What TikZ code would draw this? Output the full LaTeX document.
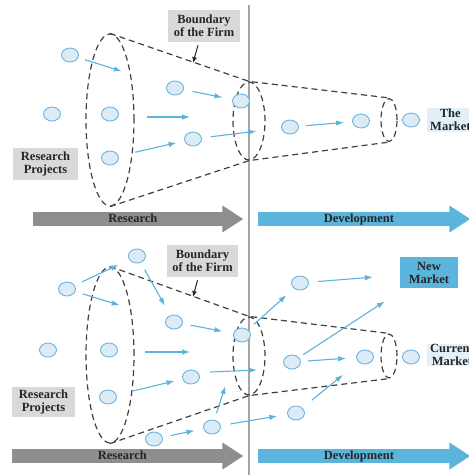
\documentclass[tikz,border=0pt]{standalone}
\usepackage{fontspec}
\setmainfont{Liberation Serif}
\usepackage{tikz}
\usetikzlibrary{arrows.meta,positioning,shapes.geometric,shapes.arrows}

\definecolor{projfill}{HTML}{DCEBF6}
\definecolor{projline}{HTML}{6BB6DE}
\definecolor{flowblue}{HTML}{5CB3DB}
\definecolor{labelgray}{HTML}{D9D9D9}
\definecolor{resgray}{HTML}{8E8E8E}
\definecolor{devblue}{HTML}{5BB4DC}
\definecolor{mktlight}{HTML}{E2F0F9}
\definecolor{conegray}{HTML}{404040}

\begin{document}
\begin{tikzpicture}[
    x=1pt, y=-1pt,
    font=\bfseries\fontsize{12.5}{13}\selectfont,
    >=Latex,
    proj/.style={
        draw=projline,
        fill=projfill,
        ellipse,
        line width=0.9pt,
        minimum width=17pt,
        minimum height=14pt,
        inner sep=0pt
    },
    flow/.style={
        draw=flowblue,
        line width=1.1pt,
        -{Latex[length=8pt,width=5.5pt]}
    },
    wall/.style={
        draw=conegray,
        dash pattern=on 6pt off 4pt,
        line width=1.2pt,
        ellipse,
        inner sep=0pt
    },
    cone/.style={
        draw=conegray,
        dash pattern=on 6pt off 4pt,
        line width=1.2pt
    },
    pointer/.style={
        draw=black!85,
        line width=1pt,
        -{Latex[length=6pt,width=5pt]}
    },
    tag/.style={
        fill=#1,
        align=center,
        inner sep=0pt,
        text=black!85
    },
    bigarrow/.style={
        single arrow,
        fill=#1,
        anchor=tail,
        minimum width=26pt,
        single arrow head extend=6.5pt,
        single arrow tip angle=66,
        inner ysep=1pt,
        text height=9pt,
        text depth=2.5pt,
        text=black!85
    }
]
\useasboundingbox (0,0) rectangle (469,475);

% divider between research and development
\coordinate (divtop) at (249,5);
\coordinate (divbot) at (249,475);
\draw[line width=1.3pt, draw=gray!70] (divtop) -- (divbot);

% =========================================================
% upper panel: closed funnel
% =========================================================
\node[wall, minimum width=48pt, minimum height=172pt] (wallA) at (110,120) {};
\node[wall, minimum width=32pt, minimum height=78pt] (wallB) at (249,121) {};
\node[wall, minimum width=16pt, minimum height=43pt] (wallC) at (389,120) {};
\draw[cone] (wallA.north) -- (wallB.north) -- (wallC.north);
\draw[cone] (wallA.south) -- (wallB.south) -- (wallC.south);

% projects
\node[proj] (t1) at (70,55) {};
\node[proj] (t2) at (52,114) {};
\node[proj] (t3) at (110,114) {};
\node[proj] (t4) at (110,158) {};
\node[proj] (t5) at (175,88) {};
\node[proj] (t6) at (193,139) {};
\node[proj] (t7) at (241,101) {};
\node[proj] (t8) at (290,127) {};
\node[proj] (t9) at (361,121) {};
\node[proj] (t10) at (411,120) {};

% flows
\draw[flow, shorten <=7pt, shorten >=47pt] (t1) -- (t5);
\coordinate (fA1) at (147,117);
\coordinate (fA2) at (190,117);
\draw[flow] (fA1) -- (fA2);
\draw[flow, shorten <=17pt, shorten >=8pt] (t4) -- (t6);
\draw[flow, shorten <=9pt, shorten >=10pt] (t5) -- (t7);
\draw[flow, shorten <=9pt, shorten >=25pt] (t6) -- (t8);
\draw[flow, shorten <=7pt, shorten >=8pt] (t8) -- (t9);

% labels
\node[tag=labelgray, minimum width=72pt, minimum height=32pt] (bndA) at (204,26) {Boundary\\of the Firm};
\coordinate (bndAtip) at (193,63);
\draw[pointer] ([xshift=-6pt,yshift=-3pt]bndA.south) -- (bndAtip);
\node[tag=labelgray, minimum width=65pt, minimum height=32pt] (projA) at (45.5,164) {Research\\Projects};
\node[tag=mktlight, anchor=west, inner xsep=3pt, inner ysep=1pt] (mktA) at (427,120) {The\\Market};

% phase arrows
\node[bigarrow=resgray, minimum height=210pt] (resA) at (33,219) {Research};
\node[bigarrow=devblue, minimum height=212pt] (devA) at (258,219) {Development};

% =========================================================
% lower panel: open funnel
% =========================================================
\node[wall, minimum width=48pt, minimum height=176pt] (wallD) at (110,355) {};
\node[wall, minimum width=32pt, minimum height=78pt] (wallE) at (249,356) {};
\node[wall, minimum width=16pt, minimum height=44pt] (wallF) at (389,356) {};
\draw[cone] (wallD.north) -- (wallE.north) -- (wallF.north);
\draw[cone] (wallD.south) -- (wallE.south) -- (wallF.south);

% projects
\node[proj] (b1) at (137,256) {};
\node[proj] (b2) at (67,289) {};
\node[proj] (b3) at (48,350) {};
\node[proj] (b4) at (109,350) {};
\node[proj] (b5) at (108,397) {};
\node[proj] (b6) at (174,322) {};
\node[proj] (b7) at (191,377) {};
\node[proj] (b8) at (154,439) {};
\node[proj] (b9) at (212,427) {};
\node[proj] (b10) at (242,335) {};
\node[proj] (b11) at (300,283) {};
\node[proj] (b12) at (292,362) {};
\node[proj] (b13) at (365,357) {};
\node[proj] (b14) at (296,413) {};
\node[proj] (b15) at (411,357) {};

% labels
\node[tag=labelgray, minimum width=71pt, minimum height=32pt] (bndB) at (202.5,261) {Boundary\\of the Firm};
\coordinate (bndBtip) at (193,297);
\draw[pointer] ([xshift=-5pt,yshift=-3pt]bndB.south) -- (bndBtip);
\node[tag=labelgray, minimum width=63pt, minimum height=30pt] (projB) at (43.5,402) {Research\\Projects};
\node[tag=devblue, minimum width=58pt, minimum height=31pt] (newmkt) at (429,272.5) {New\\Market};
\node[tag=mktlight, anchor=west, inner xsep=3pt, inner ysep=0pt] (mktB) at (427,355) {Current\\Market};

% flows
\draw[flow, shorten <=8pt, shorten >=12pt] (b2) -- (b1);
\draw[flow, shorten <=8pt, shorten >=48pt] (b2) -- (b6);
\draw[flow, shorten <=8pt, shorten >=11pt] (b1) -- (b6);
\coordinate (fB1) at (145,352);
\coordinate (fB2) at (190,352);
\draw[flow] (fB1) -- (fB2);
\draw[flow, shorten <=17pt, shorten >=8pt] (b5) -- (b7);
\draw[flow, shorten <=8pt, shorten >=11pt] (b6) -- (b10);
\coordinate (fB3) at (210,372);
\coordinate (fB4) at (257,370);
\draw[flow] (fB3) -- (fB4);
\draw[flow, shorten <=8pt, shorten >=9pt] (b8) -- (b9);
\draw[flow, shorten <=7pt, shorten >=46pt] (b9) -- (b10);
\draw[flow, shorten <=10pt, shorten >=10pt] (b9) -- (b14);
\draw[flow, shorten <=8pt, shorten >=10pt] (b10) -- (b11);
\draw[flow, shorten <=9pt, shorten >=27pt] (b11) -- (newmkt);
\draw[flow, shorten <=5pt, shorten >=24pt] (b12) -- (newmkt);
\draw[flow, shorten <=7pt, shorten >=10pt] (b12) -- (b13);
\draw[flow, shorten <=12pt, shorten >=20pt] (b14) -- (b13);

% phase arrows
\node[bigarrow=resgray, minimum height=231pt] (resB) at (12,456) {Research};
\node[bigarrow=devblue, minimum height=212pt] (devB) at (258,456) {Development};

\end{tikzpicture}
\end{document}
